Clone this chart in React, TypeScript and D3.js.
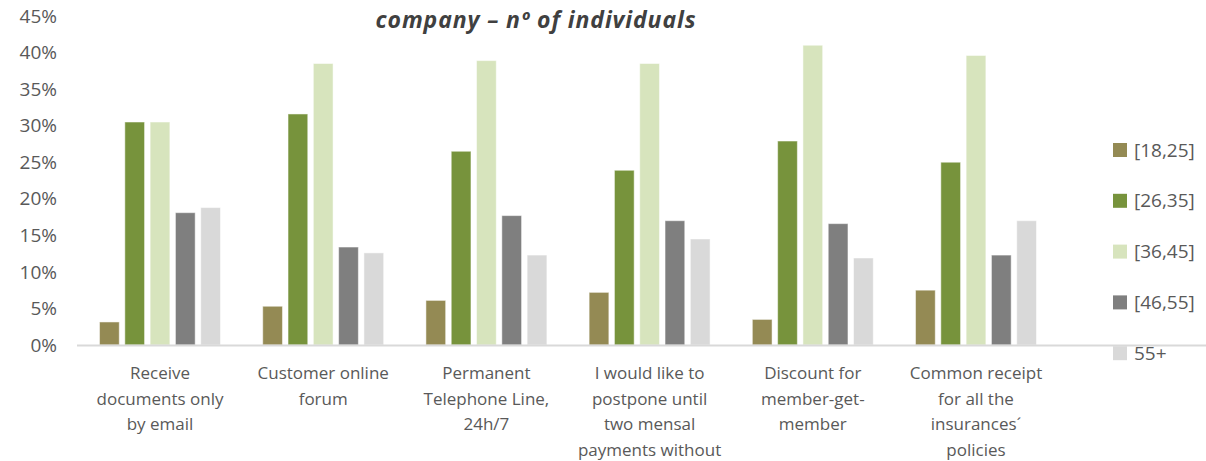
import React from "react";
import * as d3 from "d3";

const categories = [
  "Receive documents only by email",
  "Customer online forum",
  "Permanent Telephone Line, 24h/7",
  "I would like to postpone until two mensal payments without",
  "Discount for member-get-member",
  "Common receipt for all the insurances´ policies",
];
const categoryLines = [
  ["Receive", "documents only", "by email"],
  ["Customer online", "forum"],
  ["Permanent", "Telephone Line,", "24h/7"],
  ["I would like to", "postpone until", "two mensal", "payments without"],
  ["Discount for", "member-get-", "member"],
  ["Common receipt", "for all the", "insurances´", "policies"],
];
const seriesNames = ["[18,25]", "[26,35]", "[36,45]", "[46,55]", "55+"];
const seriesColors = ["#948A54", "#77933C", "#D7E4BD", "#7F7F7F", "#D9D9D9"];
const s18_25 = [3.15, 5.3, 6.1, 7.2, 3.5, 7.5];
const s26_35 = [30.5, 31.6, 26.5, 23.9, 27.9, 25.0];
const s36_45 = [30.5, 38.5, 38.9, 38.5, 41.0, 39.6];
const s46_55 = [18.1, 13.4, 17.7, 17.0, 16.6, 12.3];
const s55p = [18.8, 12.6, 12.3, 14.5, 11.9, 17.0];
const seriesValues = [s18_25, s26_35, s36_45, s46_55, s55p];
const yTicks = [0, 5, 10, 15, 20, 25, 30, 35, 40, 45];
const titleLine = "company – nº of individuals";

export default function App() {
  const W = 1206, H = 461;
  const y = d3.scaleLinear().domain([0, 45]).range([345, 16]);
  const x0 = d3.scaleBand<string>().domain(categories).range([78.4, 78.4 + 6 * 163.2]).paddingInner(0).paddingOuter(0);
  const x1 = d3.scaleBand<string>().domain(seriesNames).range([0, x0.bandwidth()]).paddingInner(0.22).paddingOuter(0.835);
  const font = "'Open Sans', sans-serif";
  const textColor = "#595959";

  return (
    <div style={{ position: "absolute", left: 0, top: 0 }}>
      <svg width={W} height={H} style={{ display: "block", background: "#fff" }}>
        <text x={536} y={28} textAnchor="middle" fontFamily={font} fontWeight="bold" fontStyle="italic" fontSize={23} fill="#404040" letterSpacing={0.9}>
          {titleLine}
        </text>
        {yTicks.map((t) => (
          <text key={t} x={57} y={y(t)} dy="0.35em" textAnchor="end" fontFamily={font} fontSize={19} fill={textColor}>
            {t + "%"}
          </text>
        ))}
        {categories.map((c, ci) => (
          <g key={c} transform={`translate(${x0(c)},0)`}>
            {seriesNames.map((s, si) => {
              const v = seriesValues[si][ci];
              return (
                <rect
                  key={s}
                  x={x1(s)}
                  y={y(v)}
                  width={x1.bandwidth()}
                  height={y(0) - y(v)}
                  fill={seriesColors[si]}
                  stroke="#ffffff"
                  strokeOpacity={0.5}
                  strokeWidth={1}
                />
              );
            })}
          </g>
        ))}
        <line x1={77} x2={1206} y1={345.5} y2={345.5} stroke="#D9D9D9" strokeWidth={2} />
        {categories.map((c, ci) => (
          <text key={c} textAnchor="middle" fontFamily={font} fontSize={17} fill={textColor}>
            {categoryLines[ci].map((ln, li) => (
              <tspan key={li} x={(x0(c) as number) + x0.bandwidth() / 2} y={379 + li * 25.5}>
                {ln}
              </tspan>
            ))}
          </text>
        ))}
        {seriesNames.map((s, si) => (
          <g key={s} transform={`translate(1113,${150 + si * 50.8})`}>
            <rect x={0} y={-7} width={14} height={14} fill={seriesColors[si]} />
            <text x={21} y={0} dy="0.35em" fontFamily={font} fontSize={19} fill={textColor}>
              {s}
            </text>
          </g>
        ))}
      </svg>
    </div>
  );
}
